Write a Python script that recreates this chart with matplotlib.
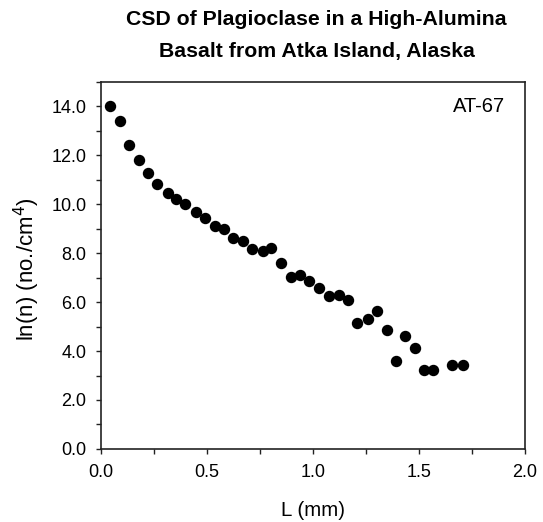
import matplotlib
matplotlib.use("Agg")
import matplotlib.pyplot as plt
from matplotlib.ticker import MultipleLocator, FormatStrFormatter

plt.rcParams['font.family'] = ['Liberation Sans', 'DejaVu Sans']

# Crystal size L (mm) and ln(n) population density
size_mm = [0.041, 0.090, 0.132, 0.181, 0.222, 0.265, 0.314, 0.356, 0.397, 0.446,
           0.489, 0.538, 0.580, 0.623, 0.670, 0.714, 0.762, 0.804, 0.847, 0.896,
           0.940, 0.981, 1.030, 1.074, 1.123, 1.166, 1.208, 1.257, 1.300, 1.349,
           1.390, 1.432, 1.481, 1.522, 1.566, 1.655, 1.705]
ln_n = [14.00, 13.39, 12.42, 11.82, 11.26, 10.84, 10.47, 10.20, 10.01, 9.69,
        9.42, 9.12, 8.97, 8.62, 8.48, 8.18, 8.11, 8.21, 7.58, 7.02,
        7.12, 6.85, 6.56, 6.27, 6.30, 6.10, 5.14, 5.33, 5.62, 4.85,
        3.59, 4.61, 4.12, 3.23, 3.23, 3.41, 3.41]

fig = plt.figure(figsize=(5.43, 5.22), dpi=100)
ax = fig.add_axes([0.186, 0.140, 0.781, 0.703])

ax.plot(size_mm, ln_n, 'o', color='black', markersize=7.2)

ax.set_xlim(0, 2.0)
ax.set_ylim(0, 15)
ax.xaxis.set_major_locator(MultipleLocator(0.5))
ax.xaxis.set_minor_locator(MultipleLocator(0.25))
ax.yaxis.set_major_locator(MultipleLocator(2))
ax.yaxis.set_minor_locator(MultipleLocator(1))
ax.xaxis.set_major_formatter(FormatStrFormatter('%.1f'))
ax.yaxis.set_major_formatter(FormatStrFormatter('%.1f'))
ax.tick_params(which='both', direction='out', length=3.5, width=1.0,
               labelsize=13, top=False, right=False, color='#222222')
ax.tick_params(axis='x', pad=7)
ax.tick_params(axis='y', pad=7)
for sp in ax.spines.values():
    sp.set_linewidth(1.2)
    sp.set_color('#222222')

ax.set_xlabel('L (mm)', fontsize=14.8, va='baseline')
ax.xaxis.set_label_coords(0.5, -0.183)
ax.set_ylabel('ln(n) (no./cm$^4$)', fontsize=16, va='center')
ax.yaxis.set_label_coords(-0.175, 0.49)

ax.text(0.953, 0.918, 'AT-67', transform=ax.transAxes, ha='right',
        va='baseline', fontsize=14.5)

fig.text(0.583, 0.952, 'CSD of Plagioclase in a High-Alumina', ha='center',
         va='baseline', fontsize=15.3, fontweight='bold')
fig.text(0.583, 0.891, 'Basalt from Atka Island, Alaska', ha='center',
         va='baseline', fontsize=15.3, fontweight='bold')

fig.savefig('out.png', dpi=100)
